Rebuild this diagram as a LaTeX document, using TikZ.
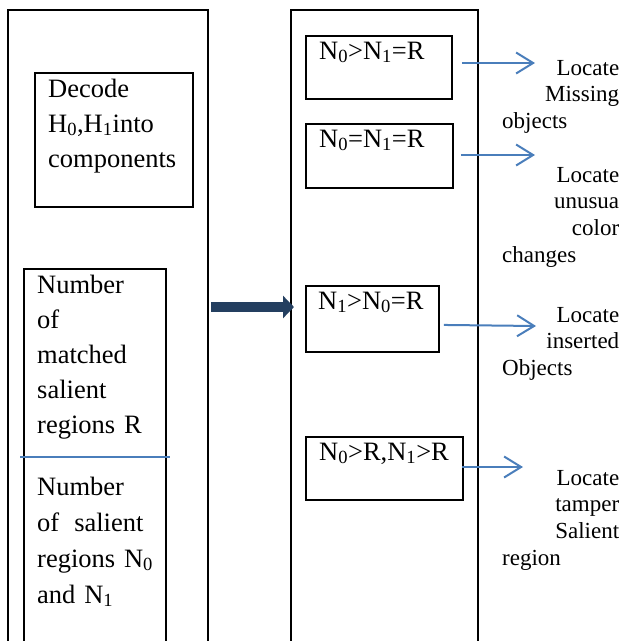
\documentclass[tikz,border=0pt]{standalone}
\usepackage{fontspec}
\setmainfont{Liberation Serif}
\usetikzlibrary{arrows.meta}
\definecolor{navy}{HTML}{243F60}
\definecolor{wblue}{HTML}{4A7EBB}
\newcommand\sbx[1]{\textsubscript{#1}}
\tikzset{
  boxx/.style={draw=black, line width=1.9pt, anchor=north west, inner sep=0pt, minimum width=#1},
  bigtxt/.style={anchor=base west, inner sep=0pt, text width=140pt, align=left, font=\fontsize{26.5}{35}\selectfont},
  condtxt/.style={anchor=base west, inner sep=0pt, font=\fontsize{26.5}{30}\selectfont},
  lbltxt/.style={anchor=base west, inner sep=0pt, text width=117pt, align=left, font=\fontsize{23}{26.8}\selectfont},
  barrow/.style={draw=wblue, line width=2pt, -{Straight Barb[length=17pt,width=21pt,line width=2pt]}},
  bigarrow/.style={draw=navy, line width=10pt, -{Triangle[length=11pt,width=22pt]}},
}
\begin{document}
\begin{tikzpicture}[x=1pt,y=-1pt]
\useasboundingbox (0,0) rectangle (624,641);
% big columns
\node[boxx=200pt, minimum height=700pt] (L) at (7,9) {};
\node[boxx=187pt, minimum height=700pt] (R) at (290,9) {};
% left boxes
\node[boxx=158pt, minimum height=134pt] (D) at (34,72) {};
\node[boxx=142pt, minimum height=700pt] (N) at (23,268) {};
% right boxes
\node[boxx=146pt, minimum height=63pt] (b1) at (305,35) {};
\node[boxx=147pt, minimum height=64pt] (b2) at (305,123) {};
\node[boxx=133pt, minimum height=66pt] (b3) at (305,285) {};
\node[boxx=157pt, minimum height=63pt] (b4) at (305,436) {};
% texts
\node[bigtxt] (dt) at (48,97) {Decode\\H\sbx{0},H\sbx{1}into\\components};
\node[bigtxt, text width=120pt] (nt1) at (37,293) {Number\\of\\matched\\salient\\regions R};
\node[bigtxt, text width=125pt, font=\fontsize{26.5}{36}\selectfont] (nt2) at (37,495) {Number\\of\hspace{15pt}salient\\regions N\sbx{0}\\and N\sbx{1}};
\node[condtxt] (c1) at (319,59) {N\sbx{0}>N\sbx{1}=R};
\node[condtxt] (c2) at (319,147) {N\sbx{0}=N\sbx{1}=R};
\node[condtxt] (c3) at (318,309) {N\sbx{1}>N\sbx{0}=R};
\node[condtxt] (c4) at (319,460) {N\sbx{0}>R,N\sbx{1}>R};
\node[lbltxt] (l1) at (502,75) {\hfill Locate\\\hfill Missing\\objects};
\node[lbltxt] (l2) at (502,182) {\hfill Locate\\\hfill unusua\\\hfill color\\changes};
\node[lbltxt] (l3) at (502,322) {\hfill Locate\\\hfill inserted\\Objects};
\node[lbltxt] (l4) at (502,485) {\hfill Locate\\\hfill tamper\\\hfill Salient\\region};
% separator in left box
\coordinate (sep) at (0,457);
\draw[draw=wblue, line width=2pt] ([xshift=-3pt]N.west |- sep) -- ([xshift=3pt]N.east |- sep);
% arrows
\coordinate (e1) at (535,63);
\coordinate (e2) at (535,155);
\coordinate (e3) at (536,326);
\coordinate (e4) at (523,467);
\draw[barrow] (b1.east |- e1) ++(9,0) -- (e1);
\draw[barrow] (b2.east |- e2) ++(7,0) -- (e2);
\draw[barrow] ([shift={(4,6)}]b3.east) -- (e3);
\draw[barrow] (b4.east |- e4) ++(-2,0) -- (e4);
\coordinate (m) at (294,307);
\draw[bigarrow] (L.east |- m) ++(2,0) -- (m);
\end{tikzpicture}
\end{document}
